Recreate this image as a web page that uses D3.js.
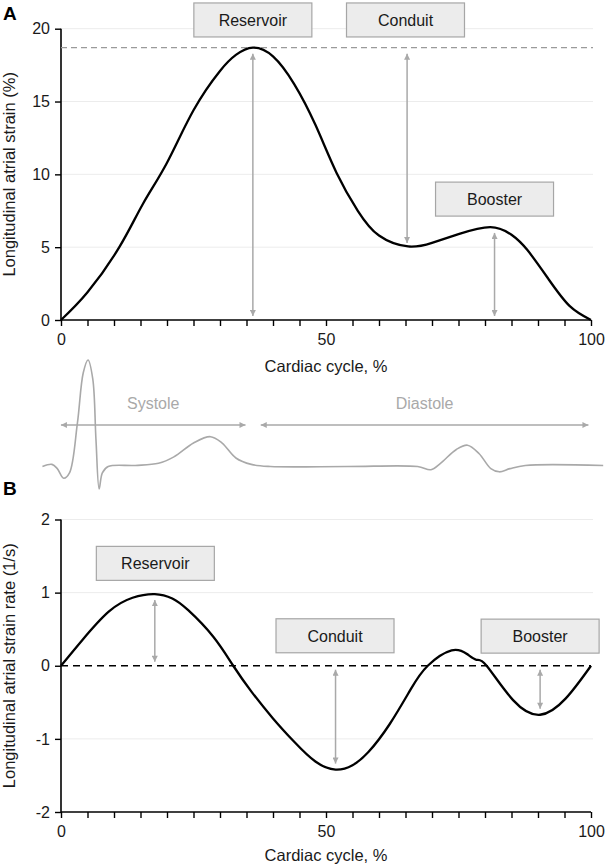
<!DOCTYPE html>
<html><head><meta charset="utf-8">
<script src="https://cdn.jsdelivr.net/npm/d3@7"></script>
<style>
html,body{margin:0;padding:0;background:#fff;}
svg{display:block;font-family:"Liberation Sans",Arial,sans-serif;}
</style></head>
<body><svg id="c" width="606" height="867"></svg>
<script>
// ---- Data ----
const strainX = [0,5,11,15.5,20,25,30,33,36.2,40,44,48,52,56,60,65.5,70,75,81,85,88,92,96,100];
const strainY = [0,1.9,5,8.0,10.8,14.4,17.1,18.2,18.7,18.1,16.2,13.4,10.1,7.5,5.8,5.05,5.3,5.9,6.38,5.85,4.8,2.8,0.95,0];
const rateX = [0,4,9,13.5,17.7,21,24,28.7,32.5,36,40,44,48,51.8,55,58,62,66,69.2,73.7,76.6,78.4,80.3,85.3,90.4,95.2,100];
const rateY = [0,0.35,0.74,0.93,0.98,0.92,0.76,0.40,0,-0.36,-0.72,-1.04,-1.31,-1.42,-1.36,-1.18,-0.80,-0.32,0,0.21,0.16,0.08,0,-0.47,-0.67,-0.45,0];
const ecgX = [-3.5,-1.7,-0.7,0.5,1.6,3.1,4.2,5.1,6.0,6.6,7.2,7.8,8.9,14.0,18.4,21.3,25.0,28.2,30.4,33.0,35.9,39.5,54.1,67.3,69.8,71.6,74.6,76.7,78.9,81.1,82.7,84.7,87.6,102.3];
const ecgY = [0,0.02,-0.02,-0.11,-0.06,0.41,0.88,1.0,0.82,0.25,-0.21,-0.06,0,0.01,0.03,0.09,0.22,0.28,0.22,0.08,0.02,0,0,0,-0.03,0.03,0.16,0.2,0.12,-0.02,-0.05,-0.02,0.01,0.01];
const xTicks = d3.range(0,101,5);
const xTickLabels = [0,50,100];
const strainTicks = [0,5,10,15,20];
const rateTicks = [-2,-1,0,1,2];
const strainPeak = 18.7;
// labels: [text, x%, y value]
const strainBoxes = [["Reservoir",36.2,20.6],["Conduit",65,20.6],["Booster",81.8,8.3]];
const rateBoxes = [["Reservoir",17.8,1.4],["Conduit",51.7,0.41],["Booster",90.4,0.405]];
// arrows: [x%, from, to]
const strainArrows = [[36.2,0,18.7],[65.3,5.02,18.7],[81.8,0,6.39]];
const rateArrows = [[17.7,0,0.98],[51.8,0,-1.42],[90.4,0,-0.67]];
const phases = [["Systole",-0.2,35], ["Diastole",37.5,99.7]];

// ---- Setup ----
const svg = d3.select("#c");
const x = d3.scaleLinear().domain([0,100]).range([61,591]);
const yA = d3.scaleLinear().domain([0,20]).range([320,28.7]);
const yB = d3.scaleLinear().domain([-2,2]).range([812,519.5]);
const yE = d3.scaleLinear().domain([0,1]).range([466.5,360]);
const font = '"Liberation Sans",Arial,sans-serif';
const grey = "#a9a9a9";

const defs = svg.append("defs");
["s","e"].forEach(k=>{
  defs.append("marker").attr("id","ah"+k).attr("viewBox","0 0 10 10")
    .attr("refX",10).attr("refY",5).attr("markerWidth",7).attr("markerHeight",6)
    .attr("markerUnits","userSpaceOnUse").attr("orient","auto-start-reverse")
    .append("path").attr("d","M0,0L10,5L0,10z").attr("fill",grey);
});

function panel(y, yTicks, gridVals, title, letter, letterY, titleY){
  const g = svg.append("g");
  g.selectAll(".grid").data(gridVals).join("line")
    .attr("x1",x(0)).attr("x2",x(100)+2).attr("y1",d=>y(d)).attr("y2",d=>y(d))
    .attr("stroke","#ececec").attr("stroke-width",1);
  const ya = g.append("g").attr("transform",`translate(${x(0)},0)`)
    .call(d3.axisLeft(y).tickValues(yTicks).tickSize(6).tickPadding(5).tickSizeOuter(0)
      .tickFormat(d=>String(d)));
  const xa = g.append("g").attr("transform",`translate(0,${y.range()[0]})`)
    .call(d3.axisBottom(x).tickValues(xTicks).tickSize(6).tickPadding(8).tickSizeOuter(0)
      .tickFormat(d=>xTickLabels.includes(d)?String(d):""));
  [ya,xa].forEach(a=>{
    a.select(".domain").attr("stroke","#000").attr("stroke-width",1.6);
    a.selectAll(".tick line").attr("stroke","#000").attr("stroke-width",1.4);
    a.selectAll("text").attr("font-family",font).attr("font-size",16).attr("fill","#1a1a1a");
  });
  ya.select(".domain").attr("d",`M0,${y.range()[1]}V${y.range()[0]}`);
  xa.select(".domain").attr("d",`M${x(0)},0H${x(100)}`);
  g.append("text").attr("x",(x(0)+x(100))/2).attr("y",titleY).attr("text-anchor","middle")
    .attr("font-size",16.5).attr("fill","#1a1a1a").text("Cardiac cycle, %");
  const cy = (y.range()[0]+y.range()[1])/2;
  g.append("text").attr("transform",`translate(15,${cy}) rotate(-90)`).attr("text-anchor","middle")
    .attr("font-size",16.5).attr("fill","#1a1a1a").text(title);
  g.append("text").attr("x",3).attr("y",letterY).attr("font-size",19).attr("font-weight","bold")
    .attr("fill","#000").text(letter);
  return g;
}

function boxes(g, y, data){
  const bw=118, bh=34;
  const bg = g.selectAll(".box").data(data).join("g");
  bg.append("rect").attr("x",d=>x(d[1])-bw/2).attr("y",d=>y(d[2])-bh/2)
    .attr("width",bw).attr("height",bh).attr("fill","#ececec").attr("stroke","#a6a6a6").attr("stroke-width",1.2);
  bg.append("text").attr("x",d=>x(d[1])).attr("y",d=>y(d[2])+6).attr("text-anchor","middle")
    .attr("font-size",16).attr("fill","#1a1a1a").text(d=>d[0]);
}

function arrows(g, y, data){
  g.selectAll(".arr").data(data).join("line")
    .attr("x1",d=>x(d[0])).attr("x2",d=>x(d[0]))
    .attr("y1",d=>{const a=y(d[1]),b=y(d[2]);return a+(b>a?4:-4);})
    .attr("y2",d=>{const a=y(d[1]),b=y(d[2]);return b+(b>a?-6:6);})
    .attr("stroke",grey).attr("stroke-width",1.5)
    .attr("marker-start","url(#ahs)").attr("marker-end","url(#ahe)");
}

const smooth = d3.curveNatural;

// ---- Panel A ----
const gA = panel(yA, strainTicks, [5,10,15,20], "Longitudinal atrial strain (%)","A",20,371.5);
gA.append("line").attr("x1",x(0)).attr("x2",x(100)+2).attr("y1",yA(strainPeak)).attr("y2",yA(strainPeak))
  .attr("stroke","#9a9a9a").attr("stroke-width",1.3).attr("stroke-dasharray","6,4");
arrows(gA, yA, strainArrows);
gA.append("path").datum(strainX.map((d,i)=>[d,strainY[i]]))
  .attr("d",d3.line().x(d=>x(d[0])).y(d=>yA(d[1])).curve(smooth))
  .attr("fill","none").attr("stroke","#000").attr("stroke-width",2.3);
boxes(gA, yA, strainBoxes);

// ---- ECG ----
const gE = svg.append("g");
gE.append("path").datum(ecgX.map((d,i)=>[d,ecgY[i]]))
  .attr("d",d3.line().x(d=>x(d[0])).y(d=>yE(d[1])).curve(d3.curveCatmullRom.alpha(0.5)))
  .attr("fill","none").attr("stroke",grey).attr("stroke-width",1.6);
phases.forEach(p=>{
  gE.append("line").attr("x1",x(p[1])+1).attr("x2",x(p[2])-1).attr("y1",425).attr("y2",425)
    .attr("stroke",grey).attr("stroke-width",1.5)
    .attr("marker-start","url(#ahs)").attr("marker-end","url(#ahe)");
  gE.append("text").attr("x",(x(p[1])+x(p[2]))/2).attr("y",409)
    .attr("text-anchor","middle").attr("font-size",16).attr("fill",grey).text(p[0]);
});

// ---- Panel B ----
const gB = panel(yB, rateTicks, [2,1,-1], "Longitudinal atrial strain rate (1/s)","B",495,861);
gB.append("line").attr("x1",x(0)).attr("x2",x(100)).attr("y1",yB(0)).attr("y2",yB(0))
  .attr("stroke","#000").attr("stroke-width",1.5).attr("stroke-dasharray","7,5");
arrows(gB, yB, rateArrows);
gB.append("path").datum(rateX.map((d,i)=>[d,rateY[i]]))
  .attr("d",d3.line().x(d=>x(d[0])).y(d=>yB(d[1])).curve(smooth))
  .attr("fill","none").attr("stroke","#000").attr("stroke-width",2.3);
boxes(gB, yB, rateBoxes);
</script></body></html>
